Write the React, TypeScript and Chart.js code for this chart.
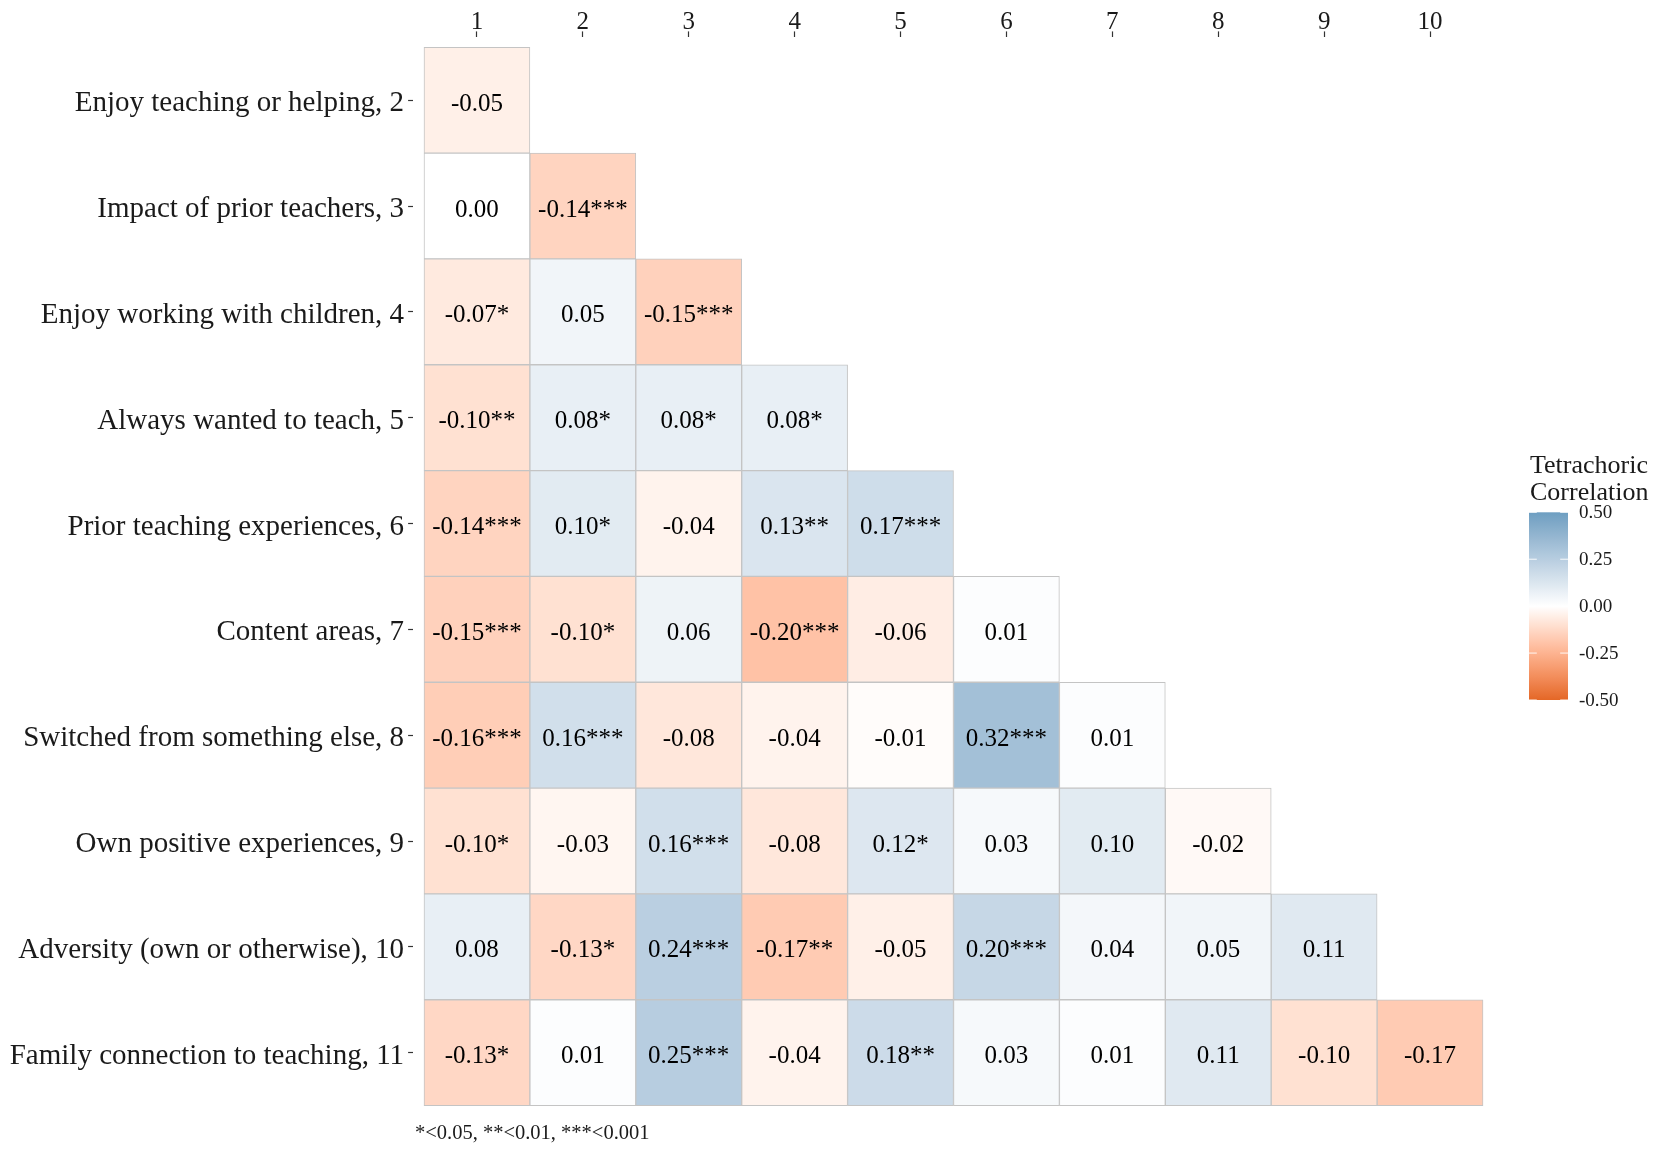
import React, { useEffect, useRef } from 'react';
import { Chart, registerables } from 'chart.js';

Chart.register(...registerables);

// ---------- data ----------
const colLabels: string[] = ['1', '2', '3', '4', '5', '6', '7', '8', '9', '10'];

const rowLabels: string[] = [
  'Enjoy teaching or helping, 2',
  'Impact of prior teachers, 3',
  'Enjoy working with children, 4',
  'Always wanted to teach, 5',
  'Prior teaching experiences, 6',
  'Content areas, 7',
  'Switched from something else, 8',
  'Own positive experiences, 9',
  'Adversity (own or otherwise), 10',
  'Family connection to teaching, 11',
];

const corrValues: number[][] = [
  [-0.05],
  [0.0, -0.14],
  [-0.07, 0.05, -0.15],
  [-0.1, 0.08, 0.08, 0.08],
  [-0.14, 0.1, -0.04, 0.13, 0.17],
  [-0.15, -0.1, 0.06, -0.2, -0.06, 0.01],
  [-0.16, 0.16, -0.08, -0.04, -0.01, 0.32, 0.01],
  [-0.1, -0.03, 0.16, -0.08, 0.12, 0.03, 0.1, -0.02],
  [0.08, -0.13, 0.24, -0.17, -0.05, 0.2, 0.04, 0.05, 0.11],
  [-0.13, 0.01, 0.25, -0.04, 0.18, 0.03, 0.01, 0.11, -0.1, -0.17],
];

const corrStars: string[][] = [
  [''],
  ['', '***'],
  ['*', '', '***'],
  ['**', '*', '*', '*'],
  ['***', '*', '', '**', '***'],
  ['***', '*', '', '***', '', ''],
  ['***', '***', '', '', '', '***', ''],
  ['*', '', '***', '', '*', '', '', ''],
  ['', '*', '***', '**', '', '***', '', '', ''],
  ['*', '', '***', '', '**', '', '', '', '', ''],
];

const legendTicks: number[] = [0.5, 0.25, 0, -0.25, -0.5];
const legendTitle: string[] = ['Tetrachoric', 'Correlation'];
const footnote = '*<0.05, **<0.01, ***<0.001';

// ---------- colour (Lab interpolation like ggplot2 gradient2) ----------
const LOW = '#E46726';
const MID = '#FFFFFF';
const HIGH = '#6D9EC1';
const LIMIT = 0.5;

const Xn = 0.95047, Yn = 1.0, Zn = 1.08883;
function hexToRgb(h: string): number[] {
  return [parseInt(h.slice(1, 3), 16), parseInt(h.slice(3, 5), 16), parseInt(h.slice(5, 7), 16)];
}
function toLin(c: number) {
  c /= 255;
  return c <= 0.04045 ? c / 12.92 : Math.pow((c + 0.055) / 1.055, 2.4);
}
function fromLin(c: number) {
  const v = c <= 0.0031308 ? 12.92 * c : 1.055 * Math.pow(c, 1 / 2.4) - 0.055;
  return Math.round(Math.max(0, Math.min(1, v)) * 255);
}
function rgbToLab(rgb: number[]): number[] {
  const R = toLin(rgb[0]), G = toLin(rgb[1]), B = toLin(rgb[2]);
  const X = 0.4124564 * R + 0.3575761 * G + 0.1804375 * B;
  const Y = 0.2126729 * R + 0.7151522 * G + 0.072175 * B;
  const Z = 0.0193339 * R + 0.119192 * G + 0.9503041 * B;
  const f = (t: number) => (t > 0.008856 ? Math.cbrt(t) : 7.787 * t + 16 / 116);
  const fx = f(X / Xn), fy = f(Y / Yn), fz = f(Z / Zn);
  return [116 * fy - 16, 500 * (fx - fy), 200 * (fy - fz)];
}
function labToHex(lab: number[]): string {
  const fy = (lab[0] + 16) / 116;
  const fx = fy + lab[1] / 500;
  const fz = fy - lab[2] / 200;
  const finv = (t: number) => (t * t * t > 0.008856 ? t * t * t : (t - 16 / 116) / 7.787);
  const X = Xn * finv(fx), Y = Yn * finv(fy), Z = Zn * finv(fz);
  const R = 3.2404542 * X - 1.5371385 * Y - 0.4985314 * Z;
  const G = -0.969266 * X + 1.8760108 * Y + 0.041556 * Z;
  const B = 0.0556434 * X - 0.2040259 * Y + 1.0572252 * Z;
  const hx = (n: number) => n.toString(16).padStart(2, '0');
  return '#' + hx(fromLin(R)) + hx(fromLin(G)) + hx(fromLin(B));
}
const labLow = rgbToLab(hexToRgb(LOW));
const labMid = rgbToLab(hexToRgb(MID));
const labHigh = rgbToLab(hexToRgb(HIGH));
function colorFor(v: number): string {
  const t = Math.max(-1, Math.min(1, v / LIMIT));
  const end = t < 0 ? labLow : labHigh;
  const a = Math.abs(t);
  return labToHex([0, 1, 2].map((k) => labMid[k] + (end[k] - labMid[k]) * a));
}

// ---------- build dataset from the arrays ----------
type Cell = { x: [number, number]; y: number; v: number; label: string };
const cells: Cell[] = [];
corrValues.forEach((row, ri) => {
  row.forEach((v, ci) => {
    const col = ci + 1;
    cells.push({
      x: [col - 0.5, col + 0.5],
      y: ri + 1,
      v,
      label: v.toFixed(2) + corrStars[ri][ci],
    });
  });
});

const FONT = "'Liberation Serif', 'Times New Roman', serif";
const TEXT = '#1a1a1a';

const cellTextPlugin = {
  id: 'cellText',
  afterDatasetsDraw(chart: any) {
    const ctx = chart.ctx;
    const meta = chart.getDatasetMeta(0);
    ctx.save();
    ctx.font = `25px ${FONT}`;
    ctx.fillStyle = '#000';
    ctx.textAlign = 'center';
    ctx.textBaseline = 'middle';
    meta.data.forEach((el: any, i: number) => {
      const p = el.getCenterPoint();
      ctx.fillText(cells[i].label, p.x, p.y + 4);
    });
    ctx.restore();
  },
};

const legendPlugin = {
  id: 'colorbar',
  afterDraw(chart: any) {
    const ctx = chart.ctx;
    const bx = 1529, bw = 39, top = 512.3, bottom = 700;
    const h = bottom - top;
    ctx.save();
    const grad = ctx.createLinearGradient(0, top, 0, bottom);
    const n = 40;
    for (let i = 0; i <= n; i++) {
      const v = LIMIT - (2 * LIMIT * i) / n;
      grad.addColorStop(i / n, colorFor(v));
    }
    ctx.fillStyle = grad;
    ctx.fillRect(bx, top, bw, h);
    // ticks
    ctx.strokeStyle = 'rgba(255,255,255,0.9)';
    ctx.lineWidth = 1;
    legendTicks.forEach((v) => {
      const y = top + ((LIMIT - v) / (2 * LIMIT)) * h;
      ctx.beginPath();
      ctx.moveTo(bx, y);
      ctx.lineTo(bx + 7.8, y);
      ctx.moveTo(bx + bw - 7.8, y);
      ctx.lineTo(bx + bw, y);
      ctx.stroke();
    });
    // labels
    ctx.fillStyle = TEXT;
    ctx.font = `19px ${FONT}`;
    ctx.textAlign = 'left';
    ctx.textBaseline = 'middle';
    legendTicks.forEach((v) => {
      const y = top + ((LIMIT - v) / (2 * LIMIT)) * h;
      ctx.fillText(v.toFixed(2), 1579, y + 1);
    });
    // title
    ctx.font = `26px ${FONT}`;
    ctx.fillText(legendTitle[0], 1530, 466);
    ctx.fillText(legendTitle[1], 1530, 493);
    // footnote
    ctx.font = `20.5px ${FONT}`;
    ctx.fillText(footnote, 415, 1134);
    ctx.restore();
  },
};

export default function App() {
  const ref = useRef<HTMLCanvasElement>(null);
  useEffect(() => {
    document.body.style.margin = '0';
    const canvas = ref.current!;
    const chart = new Chart(canvas, {
      type: 'bar',
      data: {
        datasets: [
          {
            data: cells as any,
            backgroundColor: (ctx: any) => {
              const c = cells[ctx.dataIndex];
              return c ? colorFor(c.v) : '#fff';
            },
            borderColor: '#C4C4C4',
            borderWidth: 1,
            borderSkipped: false,
            barPercentage: 1,
            categoryPercentage: 1,
          } as any,
        ],
      },
      options: {
        indexAxis: 'y',
        responsive: false,
        animation: false,
        devicePixelRatio: 1,
        layout: { padding: { left: 0, top: 0, right: 168.4, bottom: 32.8 } },
        plugins: {
          legend: { display: false },
          tooltip: { enabled: false },
        },
        scales: {
          x: {
            type: 'linear',
            position: 'top',
            min: 0.4,
            max: 10.6,
            offset: false,
            afterBuildTicks: (scale: any) => {
              scale.ticks = colLabels.map((_, i) => ({ value: i + 1 }));
            },
            afterFit: (scale: any) => {
              scale.height = 36.7;
            },
            ticks: {
              autoSkip: false,
              maxRotation: 0,
              padding: -4,
              color: TEXT,
              font: { family: FONT, size: 25, lineHeight: 1 },
              callback: (v: any) => colLabels[Math.round(v) - 1],
            },
            grid: {
              display: true,
              offset: false,
              drawOnChartArea: false,
              drawTicks: true,
              tickLength: 5.3,
              tickColor: '#333333',
              tickWidth: 1.2,
            },
            border: { display: false },
          },
          y: {
            type: 'linear',
            reverse: true,
            min: 0.4,
            max: 10.6,
            offset: false,
            afterBuildTicks: (scale: any) => {
              scale.ticks = rowLabels.map((_, i) => ({ value: i + 1 }));
            },
            afterFit: (scale: any) => {
              scale.width = 413.4;
            },
            ticks: {
              autoSkip: false,
              padding: 4,
              labelOffset: 3.5,
              color: TEXT,
              font: { family: FONT, size: 29 },
              callback: (v: any) => rowLabels[Math.round(v) - 1],
            },
            grid: {
              display: true,
              offset: false,
              drawOnChartArea: false,
              drawTicks: true,
              tickLength: 5.3,
              tickColor: '#333333',
              tickWidth: 1.2,
            },
            border: { display: false },
          },
        },
      } as any,
      plugins: [cellTextPlugin, legendPlugin],
    });
    return () => chart.destroy();
  }, []);
  return (
    <div style={{ width: 1662, height: 1149, background: '#fff' }}>
      <canvas ref={ref} width={1662} height={1149} style={{ display: 'block' }} />
    </div>
  );
}
